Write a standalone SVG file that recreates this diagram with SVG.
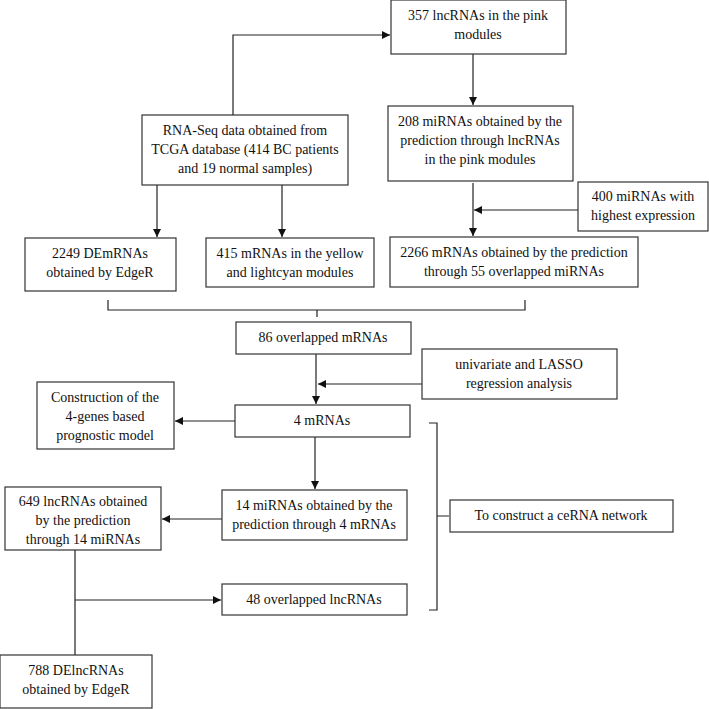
<svg xmlns="http://www.w3.org/2000/svg" width="709" height="709" viewBox="0 0 709 709">
<style>
rect{fill:#fff;stroke:#333;stroke-width:1.2}
text{font-family:"Liberation Serif",serif;font-size:14px;fill:#111;text-anchor:middle}
.c{fill:none;stroke:#222;stroke-width:1.2}
</style>
<defs><marker id="a" viewBox="0 0 10 10" refX="10" refY="5" markerWidth="7" markerHeight="7" orient="auto"><path d="M0,0L10,5L0,10z" fill="#111"/></marker></defs>
<rect width="709" height="709" style="fill:#fff;stroke:none"/>
<g id="connectors">
<path class="c" d="M233,115V35H390" marker-end="url(#a)"/>
<path class="c" d="M473,54V105" marker-end="url(#a)"/>
<path class="c" d="M157,185V237" marker-end="url(#a)"/>
<path class="c" d="M282,185V237" marker-end="url(#a)"/>
<path class="c" d="M473,183V236" marker-end="url(#a)"/>
<path class="c" d="M578,210H474" marker-end="url(#a)"/>
<path class="c" d="M108,300V310H525V300M317,310V317"/>
<path class="c" d="M316,354V404" marker-end="url(#a)"/>
<path class="c" d="M422,384H318" marker-end="url(#a)"/>
<path class="c" d="M235,421H175" marker-end="url(#a)"/>
<path class="c" d="M315,437V489" marker-end="url(#a)"/>
<path class="c" d="M222,519H162" marker-end="url(#a)"/>
<path class="c" d="M75,550V655M75,600H221" marker-end="url(#a)"/>
<path class="c" d="M429,423H437V610H429M437,516H449"/>
</g>
<g id="n1"><rect x="391" y="0" width="175" height="54"/><text x="478" y="20">357 lncRNAs in the pink</text><text x="478" y="39">modules</text></g>
<g id="n2"><rect x="142" y="115" width="206" height="70"/><text x="245" y="135">RNA-Seq data obtained from</text><text x="245" y="154">TCGA database (414 BC patients</text><text x="245" y="173">and 19 normal samples)</text></g>
<g id="n3"><rect x="388" y="106" width="185" height="75"/><text x="480" y="126">208 miRNAs obtained by the</text><text x="480" y="145">prediction through lncRNAs</text><text x="480" y="164">in the pink modules</text></g>
<g id="n4"><rect x="578" y="182" width="130" height="49"/><text x="643" y="201">400 miRNAs with</text><text x="643" y="220">highest expression</text></g>
<g id="n5"><rect x="25" y="238" width="151" height="53"/><text x="100" y="258">2249 DEmRNAs</text><text x="100" y="277">obtained by EdgeR</text></g>
<g id="n6"><rect x="206" y="238" width="168" height="49"/><text x="290" y="258">415 mRNAs in the yellow</text><text x="290" y="277">and lightcyan modules</text></g>
<g id="n7"><rect x="390" y="237" width="248" height="50"/><text x="514" y="257">2266 mRNAs obtained by the prediction</text><text x="514" y="276">through 55 overlapped miRNAs</text></g>
<g id="n8"><rect x="236" y="322" width="175" height="32"/><text x="323" y="342">86 overlapped mRNAs</text></g>
<g id="n9"><rect x="422" y="349" width="195" height="50"/><text x="519" y="369">univariate and LASSO</text><text x="519" y="388">regression analysis</text></g>
<g id="n10"><rect x="37" y="382" width="137" height="67"/><text x="105" y="402">Construction of the</text><text x="105" y="421">4-genes based</text><text x="105" y="440">prognostic model</text></g>
<g id="n11"><rect x="235" y="405" width="175" height="32"/><text x="322" y="425">4 mRNAs</text></g>
<g id="n12"><rect x="222" y="490" width="185" height="50"/><text x="314" y="510">14 miRNAs obtained by the</text><text x="314" y="529">prediction through 4 mRNAs</text></g>
<g id="n13"><rect x="5" y="487" width="156" height="63"/><text x="83" y="506">649 lncRNAs obtained</text><text x="83" y="525">by the prediction</text><text x="83" y="544">through 14 miRNAs</text></g>
<g id="n14"><rect x="450" y="500" width="223" height="32"/><text x="561" y="520">To construct a ceRNA network</text></g>
<g id="n15"><rect x="222" y="584" width="185" height="31"/><text x="314" y="604">48 overlapped lncRNAs</text></g>
<g id="n16"><rect x="0" y="655" width="152" height="53"/><text x="76" y="675">788 DElncRNAs</text><text x="76" y="694">obtained by EdgeR</text></g>
</svg>
